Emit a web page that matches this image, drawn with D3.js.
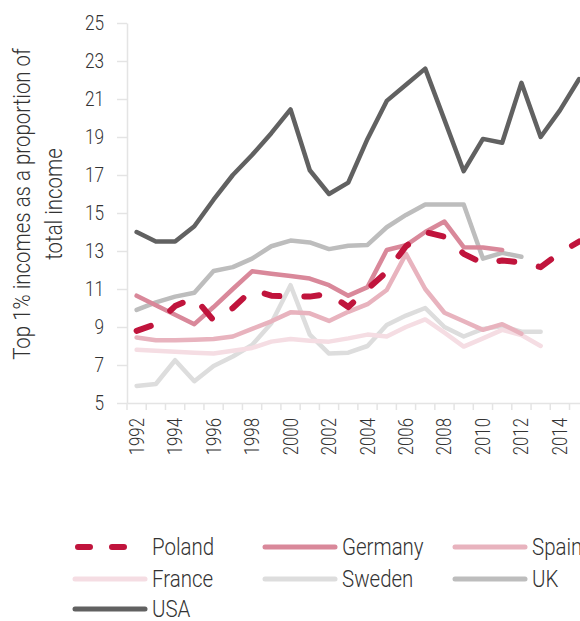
<!DOCTYPE html>
<html><head><meta charset="utf-8">
<script src="https://cdn.jsdelivr.net/npm/d3@7"></script>
<style>
body{margin:0;background:#fff;overflow:hidden}
text{font-family:Roboto,"Noto Sans",sans-serif;fill:#333;font-weight:300}
</style>
</head><body>
<svg id="chart" width="580" height="621"></svg>
<script>
// ---- data ----
const years = [1992,1993,1994,1995,1996,1997,1998,1999,2000,2001,2002,2003,2004,2005,2006,2007,2008,2009,2010,2011,2012,2013,2014,2015];
const yTicks = [5,7,9,11,13,15,17,19,21,23,25];
const xTickLabels = [1992,1994,1996,1998,2000,2002,2004,2006,2008,2010,2012,2014];
const seriesNames = ["Poland","Germany","Spain","France","Sweden","UK","USA"];
const poland  = [8.8,9.15,10.1,10.55,9.35,10.0,10.95,10.65,10.6,10.6,10.75,10.05,11.0,11.9,13.25,14.0,13.75,12.85,12.35,12.5,12.4,12.15,12.9,13.5];
const germany = [10.65,10.15,9.65,9.15,10.05,11.0,11.93,11.8,11.68,11.55,11.2,10.65,11.1,13.05,13.3,14.0,14.55,13.2,13.18,13.05];
const spain   = [8.45,8.3,8.3,8.33,8.37,8.5,8.9,9.3,9.77,9.72,9.32,9.8,10.2,10.95,12.85,11.0,9.75,9.3,8.85,9.15,8.65];
const france  = [7.8,7.75,7.7,7.65,7.6,7.75,7.9,8.23,8.37,8.28,8.23,8.4,8.6,8.5,9.0,9.4,8.7,7.97,8.4,8.85,8.58,8.0];
const sweden  = [5.9,6.0,7.25,6.15,6.95,7.45,8.05,9.2,11.2,8.6,7.6,7.65,8.0,9.1,9.6,10.0,9.0,8.5,8.9,9.05,8.75,8.75];
const uk      = [9.9,10.3,10.6,10.8,11.95,12.15,12.6,13.25,13.55,13.45,13.1,13.28,13.32,14.25,14.9,15.45,15.45,15.45,12.6,12.9,12.7];
const usa     = [14.0,13.5,13.5,14.3,15.7,17.0,18.05,19.2,20.45,17.25,16.0,16.6,18.9,20.9,21.75,22.6,19.9,17.2,18.9,18.7,21.85,19.0,20.4,22.05];
const seriesValues = [poland, germany, spain, france, sweden, uk, usa];
const colors = ["#c0143c","#d9889a","#e8b3be","#f5dde3","#dddddd","#bdbdbd","#616161"];
const yTitle = ["Top 1% incomes as a proportion of","total income"];

// ---- layout ----
const svg = d3.select("#chart");
const plotLeft = 127, plotTop = 23, plotBottom = 403, band = 19.24;
const x = d3.scaleBand().domain(years).range([plotLeft, plotLeft + band * years.length]).paddingInner(0).paddingOuter(0);
const y = d3.scaleLinear().domain([5,25]).range([plotBottom, plotTop]);
const axisColor = "#e4e4e4";

function condense(sel, k){
  sel.each(function(){
    const len = this.getComputedTextLength();
    if (len > 0) d3.select(this).attr("textLength", len * k).attr("lengthAdjust", "spacingAndGlyphs");
  });
}

// y axis
const gy = svg.append("g").attr("transform", `translate(${plotLeft},0)`)
  .call(d3.axisLeft(y).tickValues(yTicks).tickSize(10).tickSizeOuter(0).tickPadding(13));
gy.select(".domain").attr("stroke", axisColor).attr("stroke-width", 1.5);
gy.selectAll(".tick line").attr("stroke", axisColor).attr("stroke-width", 1.5);
gy.selectAll(".tick text").attr("font-size", 20).attr("fill", "#333").attr("font-family", "Roboto");
condense(gy.selectAll(".tick text"), 0.86);

// x axis
const gx = svg.append("g").attr("transform", `translate(0,${plotBottom})`)
  .call(d3.axisBottom(x).tickValues(xTickLabels).tickSize(0).tickSizeOuter(0));
gx.select(".domain").attr("stroke", axisColor).attr("stroke-width", 1.5);
gx.selectAll(".tick text")
  .attr("font-size", 20).attr("fill", "#333").attr("font-family", "Roboto")
  .attr("transform", "rotate(-90)").attr("text-anchor", "end")
  .attr("x", -15).attr("y", 0).attr("dy", "0.35em");
condense(gx.selectAll(".tick text"), 0.84);
gx.selectAll("line.yr").data(years).join("line").attr("class","yr")
  .attr("x1", d => x(d)).attr("x2", d => x(d)).attr("y1", 0).attr("y2", 7)
  .attr("stroke", axisColor).attr("stroke-width", 1.5);

// y title
const yt = svg.append("g").attr("transform", "translate(0,204) rotate(-90)");
yt.selectAll("text").data(yTitle).join("text")
  .attr("x", 0).attr("y", (d,i) => i === 0 ? 30 : 62)
  .attr("text-anchor", "middle").attr("font-size", 23).text(d => d);
condense(yt.selectAll("text"), 0.89);

// lines
const line = d3.line().x((d,i) => x(years[i]) + x.bandwidth()/2).y(d => y(d));
const order = [6,5,4,3,2,1,0];
order.forEach(k => {
  const p = svg.append("path").datum(seriesValues[k])
    .attr("d", line).attr("fill", "none").attr("stroke", colors[k])
    .attr("stroke-width", k === 0 ? 6 : 4.5)
    .attr("stroke-linejoin", "round").attr("stroke-linecap", "round");
  if (k === 0) p.attr("stroke-dasharray", "15,25");
});

// legend
const colX = [75, 265, 455], rowY = [547, 579, 609];
seriesNames.forEach((name, i) => {
  const cx = colX[i % 3], cy = rowY[Math.floor(i / 3)];
  const ln = svg.append("line").attr("x1", cx).attr("x2", cx + 70).attr("y1", cy).attr("y2", cy)
    .attr("stroke", colors[i]).attr("stroke-width", i === 0 ? 6 : 5).attr("stroke-linecap", "round");
  if (i === 0) ln.attr("x1", cx + 3).attr("x2", cx + 55).attr("stroke-dasharray", "12,22");
  svg.append("text").attr("class","leg").attr("x", cx + 77).attr("y", cy).attr("dy", "0.35em")
    .attr("font-size", 23).text(name);
});
condense(svg.selectAll("text.leg"), 0.89);
</script>
</body></html>
